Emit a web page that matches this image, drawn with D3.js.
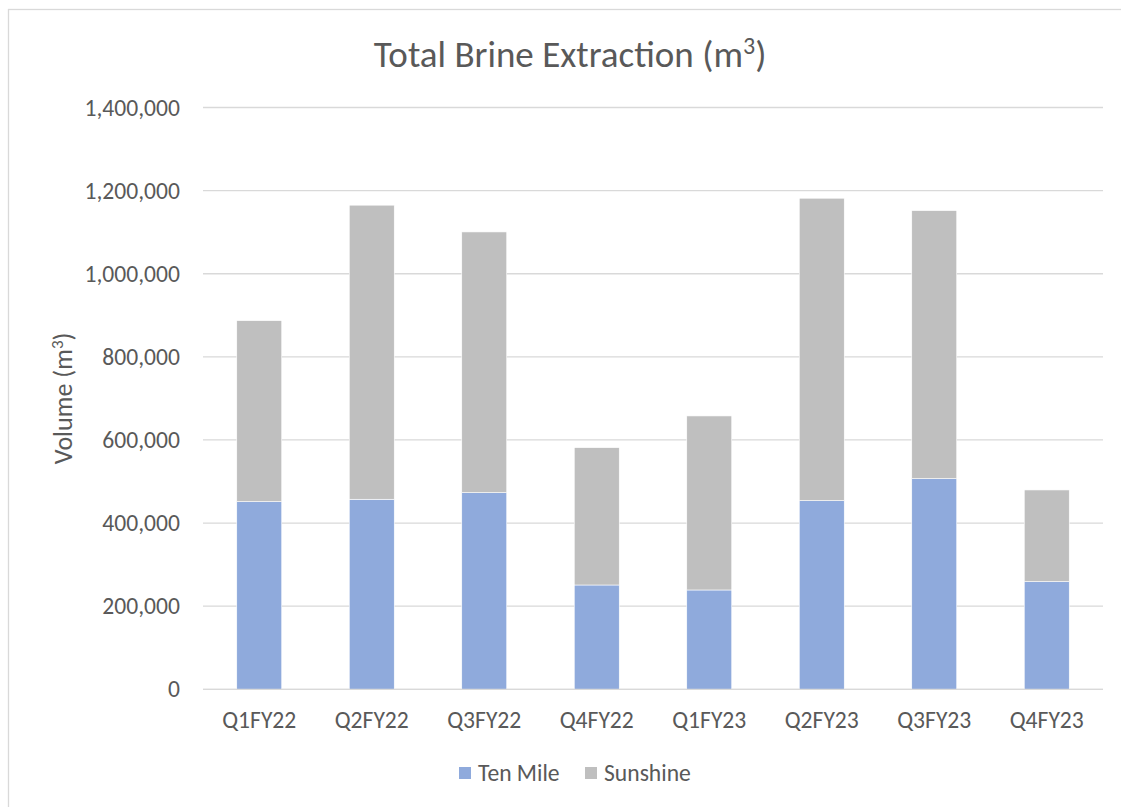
<!DOCTYPE html>
<html>
<head>
<meta charset="utf-8">
<script src="https://cdn.jsdelivr.net/npm/d3@7"></script>
<style>
  html, body { margin: 0; padding: 0; background: #fff; }
  svg { display: block; }
  text { font-family: Carlito, Calibri, Lato, "Open Sans", sans-serif; fill: #595959; }
</style>
</head>
<body>
<svg id="chart" width="1121" height="807"></svg>
<script>
// Quarterly brine extraction volumes (m³) by wellfield
const quarters = ["Q1FY22", "Q2FY22", "Q3FY22", "Q4FY22", "Q1FY23", "Q2FY23", "Q3FY23", "Q4FY23"];
const tenMile  = [451500, 457300, 473200, 251000, 239000, 453900, 506900, 259000];
const sunshine = [435600, 707700, 627400, 330500, 418800, 727800, 645000, 220700];
const seriesNames = ["Ten Mile", "Sunshine"];
const seriesColors = ["#8FAADC", "#BFBFBF"];
const yTicks = [0, 200000, 400000, 600000, 800000, 1000000, 1200000, 1400000];

const FONT = "Carlito, Calibri, Lato, 'Open Sans', sans-serif";
const LABEL_SIZE = 23.6;

const svg = d3.select("#chart");
const W = 1121, H = 807;
const m = { left: 203, right: 18, top: 107.5, bottom: 117.7 };

// chart frame
svg.append("rect")
  .attr("x", 8.5).attr("y", 9.5)
  .attr("width", W + 20).attr("height", H + 20)
  .attr("fill", "#fff").attr("stroke", "#D9D9D9").attr("stroke-width", 1.3);

const rows = quarters.map((q, i) => ({ q, "Ten Mile": tenMile[i], "Sunshine": sunshine[i] }));
const stacked = d3.stack().keys(seriesNames)(rows);

const x = d3.scaleBand().domain(quarters).range([m.left, W - m.right]).paddingInner(0.6).paddingOuter(0.3);
const y = d3.scaleLinear().domain([0, 1400000]).range([H - m.bottom, m.top]);

// gridlines
svg.append("g")
  .selectAll("line").data(yTicks).join("line")
  .attr("x1", m.left).attr("x2", W - m.right)
  .attr("y1", d => y(d)).attr("y2", d => y(d))
  .attr("stroke", "#D9D9D9").attr("stroke-width", 1.3);

// y axis tick labels
const fmt = d3.format(",");
const yAxis = d3.axisLeft(y).tickValues(yTicks).tickFormat(fmt).tickSize(0).tickPadding(23);
const gy = svg.append("g").attr("transform", `translate(${m.left},0)`).call(yAxis);
gy.select(".domain").remove();
gy.selectAll("text").style("font-size", LABEL_SIZE + "px").attr("fill", "#595959")
  .style("font-family", FONT);

// stacked bars
svg.append("g")
  .selectAll("g").data(stacked).join("g")
  .attr("fill", (d, i) => seriesColors[i])
  .selectAll("rect").data(d => d).join("rect")
  .attr("x", d => x(d.data.q))
  .attr("width", x.bandwidth())
  .attr("y", d => y(d[1]))
  .attr("height", d => y(d[0]) - y(d[1]))
  .attr("stroke", "#fff").attr("stroke-width", 0.6);

// x axis labels
const xAxis = d3.axisBottom(x).tickSize(0).tickPadding(22);
const gx = svg.append("g").attr("transform", `translate(0,${H - m.bottom})`).call(xAxis);
gx.select(".domain").remove();
gx.selectAll("text").style("font-size", LABEL_SIZE + "px").attr("fill", "#595959")
  .style("font-family", FONT);

// baseline
svg.append("line")
  .attr("x1", m.left).attr("x2", W - m.right)
  .attr("y1", y(0)).attr("y2", y(0))
  .attr("stroke", "#D9D9D9").attr("stroke-width", 1.3);

// title
const title = svg.append("text")
  .attr("x", 570).attr("y", 67)
  .attr("text-anchor", "middle")
  .style("font-size", "37px");
title.append("tspan").text("Total Brine Extraction (m");
title.append("tspan").attr("dy", -13).style("font-size", "24px").text("3");
title.append("tspan").attr("dy", 13).text(")");

// y axis title
const yt = svg.append("text")
  .attr("transform", `translate(72,${(y(0) + y(1400000)) / 2}) rotate(-90)`)
  .attr("text-anchor", "middle")
  .style("font-size", "26px");
yt.append("tspan").text("Volume (m");
yt.append("tspan").attr("dy", -9).style("font-size", "17px").text("3");
yt.append("tspan").attr("dy", 9).text(")");

// legend
const legendX = [459, 585];
const lg = svg.append("g").selectAll("g").data(seriesNames).join("g")
  .attr("transform", (d, i) => `translate(${legendX[i]},767)`);
lg.append("rect").attr("width", 12).attr("height", 12).attr("fill", (d, i) => seriesColors[i]);
lg.append("text").attr("x", 19).attr("y", 14).style("font-size", LABEL_SIZE + "px").text(d => d);
</script>
</body>
</html>
